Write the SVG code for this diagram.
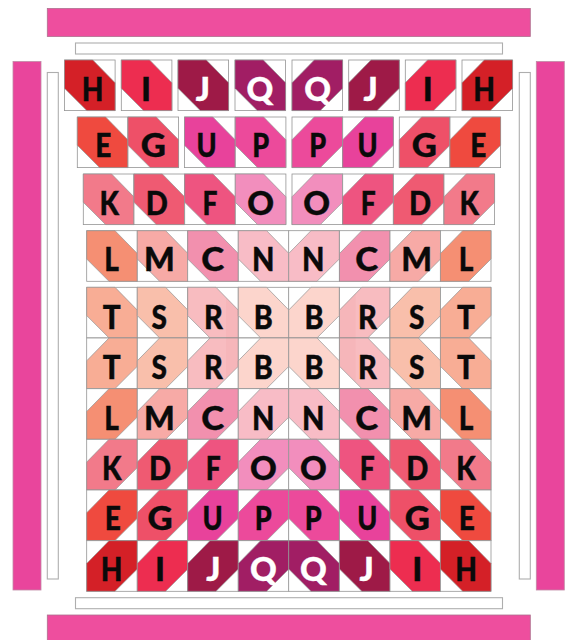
<svg xmlns="http://www.w3.org/2000/svg" width="569" height="640" viewBox="0 0 569 640">
<style>
text{font-family:"Lato","Liberation Sans",sans-serif;font-weight:900;font-size:33px;text-anchor:middle;fill:#0a0a0a;stroke:#0a0a0a;stroke-width:.4;transform-box:fill-box;transform-origin:center;transform:translateY(-.3px) scaleX(var(--s,1))}
.cell rect{fill:#fff;stroke:#949494;stroke-width:.8}
.cell polygon{stroke:#949494;stroke-width:.7}
.pink{fill:#ee4e9e;stroke:#ad6f8e;stroke-width:.8}
.side{fill:#e9459c;stroke:#c08aa6;stroke-width:.8}
.strip{fill:#fff;stroke:#aeaeae;stroke-width:1.1}
.band{fill:#e0606c;opacity:.06}
.H{fill:#d42027;--s:.85}.I{fill:#ed2d50}.J{fill:#9e1a47}.Q{fill:#a11e64}
.E{fill:#ef4a3f;--s:.85}.G{fill:#ee5068;--s:1.05}.U{fill:#e8429b;--s:.82}.P{fill:#ec4a9b;--s:.82}
.K{fill:#f27a8a;--s:.85}.D{fill:#ef5a72;--s:.88}.F{fill:#ee5480;--s:.8}.O{fill:#f28ebd}
.L{fill:#f58f73;--s:.85}.M{fill:#f7aaa6;--s:.98}.C{fill:#f290ae;--s:1.05}.N{fill:#f8bcc6;--s:.88}
.T{fill:#f8ad95;--s:.9}.S{fill:#f9bfab;--s:.85}.R{fill:#f8bcc0;--s:.88}.B{fill:#fcd5cc;--s:.87}
.J text,.Q text{fill:#fff;stroke:#fff}
</style>
<defs>
<g id="a" class="cell"><rect width="50.6" height="50.6"/><polygon points="0,0 28.3,0 50.6,22.8 50.6,50.6 22.3,50.6 0,28.3"/></g>
<g id="b" class="cell"><rect width="50.6" height="50.6"/><polygon points="22.3,0 50.6,0 50.6,28.3 28.3,50.6 0,50.6 0,22.8"/></g>
</defs>
<g id="borders">
<rect class="pink" x="47.3" y="8.5" width="483" height="28"/>
<rect class="pink" x="47.3" y="615" width="483" height="28"/>
<rect class="side" x="13" y="61.5" width="28" height="528.5"/>
<rect class="side" x="536.3" y="61.5" width="28" height="528.5"/>
<rect class="strip" x="75.5" y="43" width="427" height="11"/>
<rect class="strip" x="75.5" y="597.7" width="427" height="11"/>
<rect class="strip" x="47.3" y="72.5" width="11" height="506.5"/>
<rect class="strip" x="519.3" y="72.5" width="11" height="506.5"/>
</g>
<g id="row1">
<g id="r1-H1" class="H"><use href="#a" x="64.5" y="60"/><text x="92.7" y="101.7">H</text></g>
<g id="r1-I1" class="I"><use href="#a" x="121.3" y="60"/><text x="146" y="101.7">I</text></g>
<g id="r1-J1" class="J"><use href="#a" x="178" y="60"/><text x="203" y="101.7">J</text></g>
<g id="r1-Q1" class="Q"><use href="#a" x="235" y="60"/><text x="260" y="101.7">Q</text></g>
<g id="r1-Q2" class="Q"><use href="#b" x="292" y="60"/><text x="317.7" y="101.7">Q</text></g>
<g id="r1-J2" class="J"><use href="#b" x="348.7" y="60"/><text x="370.7" y="101.7">J</text></g>
<g id="r1-I2" class="I"><use href="#b" x="405.3" y="60"/><text x="427.7" y="101.7">I</text></g>
<g id="r1-H2" class="H"><use href="#b" x="462" y="60"/><text x="484" y="101.7">H</text></g>
</g>
<g id="row2">
<g id="r2-E1" class="E"><use href="#a" x="77.3" y="117"/><text x="103.3" y="157.3">E</text></g>
<g id="r2-G1" class="G"><use href="#a" x="128" y="117"/><text x="153.3" y="157.3">G</text></g>
<g id="r2-U1" class="U"><use href="#a" x="184.5" y="117"/><text x="206.7" y="157.3">U</text></g>
<g id="r2-P1" class="P"><use href="#a" x="235.3" y="117"/><text x="260.7" y="157.3">P</text></g>
<g id="r2-P2" class="P"><use href="#b" x="292" y="117"/><text x="317.7" y="157.3">P</text></g>
<g id="r2-U2" class="U"><use href="#b" x="342.7" y="117"/><text x="367.7" y="157.3">U</text></g>
<g id="r2-G2" class="G"><use href="#b" x="399.3" y="117"/><text x="424.3" y="157.3">G</text></g>
<g id="r2-E2" class="E"><use href="#b" x="450" y="117"/><text x="478.3" y="157.3">E</text></g>
</g>
<g id="row3">
<g id="r3-K1" class="K"><use href="#a" x="83.3" y="174"/><text x="109.3" y="215">K</text></g>
<g id="r3-D1" class="D"><use href="#a" x="134" y="174"/><text x="156.7" y="215">D</text></g>
<g id="r3-F1" class="F"><use href="#a" x="184.7" y="174"/><text x="210" y="215">F</text></g>
<g id="r3-O1" class="O"><use href="#a" x="235.3" y="174"/><text x="260.7" y="215">O</text></g>
<g id="r3-O2" class="O"><use href="#b" x="292" y="174"/><text x="316.7" y="215">O</text></g>
<g id="r3-F2" class="F"><use href="#b" x="342.7" y="174"/><text x="368.3" y="215">F</text></g>
<g id="r3-D2" class="D"><use href="#b" x="393.4" y="174"/><text x="420" y="215">D</text></g>
<g id="r3-K2" class="K"><use href="#b" x="444" y="174"/><text x="469.3" y="215">K</text></g>
</g>
<g id="row4">
<g id="r4-L1" class="L"><use href="#a" x="86.7" y="230.7"/><text x="111.7" y="271.7">L</text></g>
<g id="r4-M1" class="M"><use href="#a" x="137.3" y="230.7"/><text x="159.3" y="271.7">M</text></g>
<g id="r4-C1" class="C"><use href="#a" x="187.7" y="230.7"/><text x="212.7" y="271.7">C</text></g>
<g id="r4-N1" class="N"><use href="#a" x="238.3" y="230.7"/><text x="263.3" y="271.7">N</text></g>
<g id="r4-N2" class="N"><use href="#b" x="288.7" y="230.7"/><text x="313.3" y="271.7">N</text></g>
<g id="r4-C2" class="C"><use href="#b" x="339.5" y="230.7"/><text x="366.7" y="271.7">C</text></g>
<g id="r4-M2" class="M"><use href="#b" x="390" y="230.7"/><text x="416.7" y="271.7">M</text></g>
<g id="r4-L2" class="L"><use href="#b" x="440.4" y="230.7"/><text x="466" y="271.7">L</text></g>
</g>
<g id="row5">
<g id="r5-T1" class="T"><use href="#a" x="86.7" y="287.3"/><text x="111.7" y="329">T</text></g>
<g id="r5-S1" class="S"><use href="#a" x="137.3" y="287.3"/><text x="159.3" y="329">S</text></g>
<g id="r5-R1" class="R"><use href="#a" x="187.7" y="287.3"/><text x="213.3" y="329">R</text></g>
<g id="r5-B1" class="B"><use href="#a" x="238.3" y="287.3"/><text x="263.3" y="329">B</text></g>
<g id="r5-B2" class="B"><use href="#b" x="288.7" y="287.3"/><text x="314" y="329">B</text></g>
<g id="r5-R2" class="R"><use href="#b" x="339.5" y="287.3"/><text x="367.3" y="329">R</text></g>
<g id="r5-S2" class="S"><use href="#b" x="390" y="287.3"/><text x="416.7" y="329">S</text></g>
<g id="r5-T2" class="T"><use href="#b" x="440.4" y="287.3"/><text x="466" y="329">T</text></g>
</g>
<g id="row6">
<g id="r6-T1" class="T"><use href="#b" x="86.7" y="338"/><text x="111.7" y="379">T</text></g>
<g id="r6-S1" class="S"><use href="#b" x="137.3" y="338"/><text x="159.3" y="379">S</text></g>
<g id="r6-R1" class="R"><use href="#b" x="187.7" y="338"/><text x="213.3" y="379">R</text></g>
<g id="r6-B1" class="B"><use href="#b" x="238.3" y="338"/><text x="263.3" y="379">B</text></g>
<g id="r6-B2" class="B"><use href="#a" x="288.7" y="338"/><text x="314" y="379">B</text></g>
<g id="r6-R2" class="R"><use href="#a" x="339.5" y="338"/><text x="367.3" y="379">R</text></g>
<g id="r6-S2" class="S"><use href="#a" x="390" y="338"/><text x="416.7" y="379">S</text></g>
<g id="r6-T2" class="T"><use href="#a" x="440.4" y="338"/><text x="466" y="379">T</text></g>
</g>
<g id="fabric-shading">
<polygon class="band" points="226,297.6 238.3,310 238.3,366.3 226,378.6"/>
<polygon class="band" points="339.5,310 355.7,293.6 355.7,382.5 339.5,366.3"/>
</g>
<g id="row7">
<g id="r7-L1" class="L"><use href="#b" x="86.7" y="388.7"/><text x="111.7" y="430">L</text></g>
<g id="r7-M1" class="M"><use href="#b" x="137.3" y="388.7"/><text x="159.3" y="430">M</text></g>
<g id="r7-C1" class="C"><use href="#b" x="187.7" y="388.7"/><text x="212.7" y="430">C</text></g>
<g id="r7-N1" class="N"><use href="#b" x="238.3" y="388.7"/><text x="263.3" y="430">N</text></g>
<g id="r7-N2" class="N"><use href="#a" x="288.7" y="388.7"/><text x="313.3" y="430">N</text></g>
<g id="r7-C2" class="C"><use href="#a" x="339.5" y="388.7"/><text x="366.7" y="430">C</text></g>
<g id="r7-M2" class="M"><use href="#a" x="390" y="388.7"/><text x="416.7" y="430">M</text></g>
<g id="r7-L2" class="L"><use href="#a" x="440.4" y="388.7"/><text x="466" y="430">L</text></g>
</g>
<g id="row8">
<g id="r8-K1" class="K"><use href="#b" x="86.7" y="439.3"/><text x="111.7" y="480">K</text></g>
<g id="r8-D1" class="D"><use href="#b" x="137.3" y="439.3"/><text x="160" y="480">D</text></g>
<g id="r8-F1" class="F"><use href="#b" x="187.7" y="439.3"/><text x="213.3" y="480">F</text></g>
<g id="r8-O1" class="O"><use href="#b" x="238.3" y="439.3"/><text x="263.3" y="480">O</text></g>
<g id="r8-O2" class="O"><use href="#a" x="288.7" y="439.3"/><text x="313.3" y="480">O</text></g>
<g id="r8-F2" class="F"><use href="#a" x="339.5" y="439.3"/><text x="367.3" y="480">F</text></g>
<g id="r8-D2" class="D"><use href="#a" x="390" y="439.3"/><text x="417.3" y="480">D</text></g>
<g id="r8-K2" class="K"><use href="#a" x="440.4" y="439.3"/><text x="466" y="480">K</text></g>
</g>
<g id="row9">
<g id="r9-E1" class="E"><use href="#b" x="86.7" y="490"/><text x="112.7" y="530.7">E</text></g>
<g id="r9-G1" class="G"><use href="#b" x="137.3" y="490"/><text x="160" y="530.7">G</text></g>
<g id="r9-U1" class="U"><use href="#b" x="187.7" y="490"/><text x="212.7" y="530.7">U</text></g>
<g id="r9-P1" class="P"><use href="#b" x="238.3" y="490"/><text x="263.3" y="530.7">P</text></g>
<g id="r9-P2" class="P"><use href="#a" x="288.7" y="490"/><text x="313.3" y="530.7">P</text></g>
<g id="r9-U2" class="U"><use href="#a" x="339.5" y="490"/><text x="367.3" y="530.7">U</text></g>
<g id="r9-G2" class="G"><use href="#a" x="390" y="490"/><text x="417.3" y="530.7">G</text></g>
<g id="r9-E2" class="E"><use href="#a" x="440.4" y="490"/><text x="466.7" y="530.7">E</text></g>
</g>
<g id="row10">
<g id="r10-H1" class="H"><use href="#b" x="86.7" y="540.7"/><text x="111.7" y="581.7">H</text></g>
<g id="r10-I1" class="I"><use href="#b" x="137.3" y="540.7"/><text x="160" y="581.7">I</text></g>
<g id="r10-J1" class="J"><use href="#b" x="187.7" y="540.7"/><text x="213.3" y="581.7">J</text></g>
<g id="r10-Q1" class="Q"><use href="#b" x="238.3" y="540.7"/><text x="263.3" y="581.7">Q</text></g>
<g id="r10-Q2" class="Q"><use href="#a" x="288.7" y="540.7"/><text x="313.3" y="581.7">Q</text></g>
<g id="r10-J2" class="J"><use href="#a" x="339.5" y="540.7"/><text x="366.7" y="581.7">J</text></g>
<g id="r10-I2" class="I"><use href="#a" x="390" y="540.7"/><text x="417.3" y="581.7">I</text></g>
<g id="r10-H2" class="H"><use href="#a" x="440.4" y="540.7"/><text x="466" y="581.7">H</text></g>
</g>
</svg>
